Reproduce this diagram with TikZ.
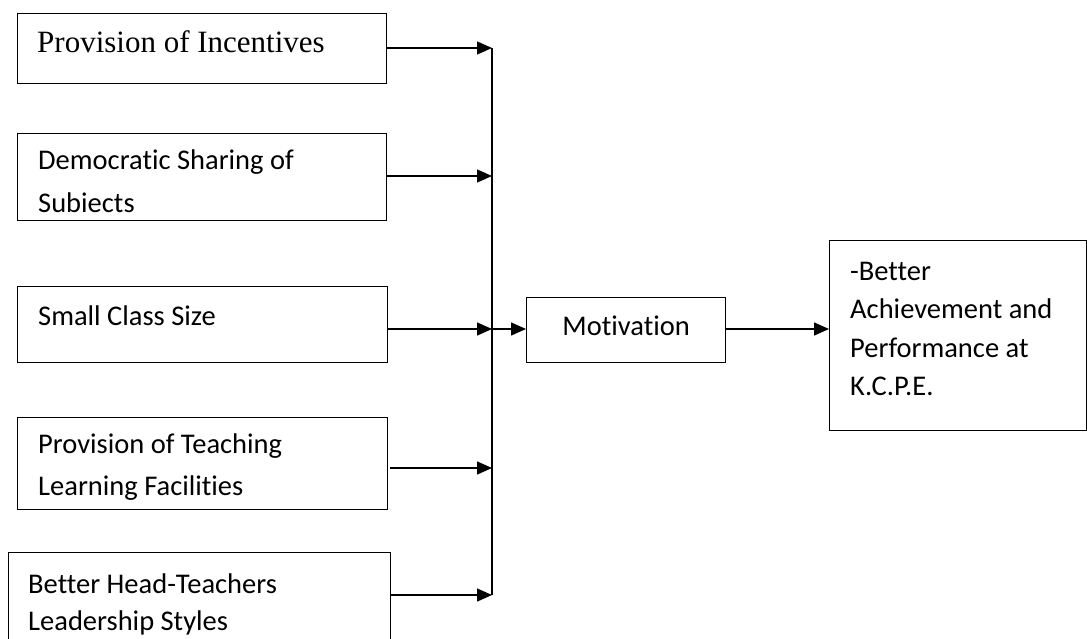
\documentclass[tikz,border=0pt]{standalone}
\usepackage{fontspec}
\setmainfont{Carlito}[Ligatures={NoCommon,NoRequired,NoContextual}]
\newfontfamily\tms{Liberation Serif}
\usetikzlibrary{arrows.meta}
\begin{document}
\begin{tikzpicture}[x=1pt,y=-1pt,
  box/.style={draw,line width=1.3pt,rectangle,inner sep=0pt,anchor=north west},
  lbl/.style={anchor=base west,inner sep=0pt,font=\fontsize{28.5}{34}\selectfont},
  arr/.style={line width=1.5pt,-{Triangle[length=15pt,width=13pt]}},
  bus/.style={line width=1.5pt}]
\useasboundingbox (0,0) rectangle (1087,639);
% input boxes
\node[box,minimum width=369pt,minimum height=70pt] (b1) at (17,13) {};
\node[box,minimum width=369pt,minimum height=87pt] (b2) at (17,133) {};
\node[box,minimum width=370pt,minimum height=76pt] (b3) at (17,286) {};
\node[box,minimum width=370pt,minimum height=92pt] (b4) at (17,417) {};
\node[box,minimum width=382pt,minimum height=100pt] (b5) at (8,552) {};
% texts
\node[anchor=base west,inner sep=0pt,font=\tms\fontsize{31}{37}\selectfont] (t1) at (37,53) {Provision of Incentives};
\node[lbl] (t2a) at (38,170) {Democratic Sharing of};
\node[lbl] (t2b) at (38,213) {Subiects};
\node[lbl] (t3) at (38,325) {Small Class Size};
\node[lbl] (t4a) at (38,453) {Provision of Teaching};
\node[lbl] (t4b) at (38,495) {Learning Facilities};
\node[lbl] (t5a) at (28,593) {Better Head-Teachers};
\node[lbl] (t5b) at (28,630) {Leadership Styles};
% motivation and outcome
\node[box,minimum width=199pt,minimum height=65pt] (mot) at (526,297) {};
\node[lbl,anchor=base] (tm) at (mot.center |- 0,335) {Motivation};
\node[box,minimum width=257pt,minimum height=190pt] (out) at (829,240) {};
\node[lbl] (o1) at (850,280) {-Better};
\node[lbl] (o2) at (850,318) {Achievement and};
\node[lbl] (o3) at (850,357) {Performance at};
\node[lbl] (o4) at (850,395) {K.C.P.E.};
% bus coordinates
\coordinate (j1) at (492,48);
\coordinate (j2) at (492,176);
\coordinate (j3) at (492,329);
\coordinate (j4) at (492,468);
\coordinate (j5) at (492,595);
\draw[bus] (j1) -- (j5);
\draw[arr] (b1.east |- j1) -- (j1);
\draw[arr] (b2.east |- j2) -- (j2);
\draw[arr] (b3.east |- j3) -- (j3);
\draw[arr] (390,468) coordinate (s4) -- (j4);
\draw[arr] (b5.east |- j5) -- (j5);
\draw[arr] (j3) -- (mot.west |- j3);
\draw[arr] (mot.east |- j3) -- (out.west |- j3);
\end{tikzpicture}
\end{document}
